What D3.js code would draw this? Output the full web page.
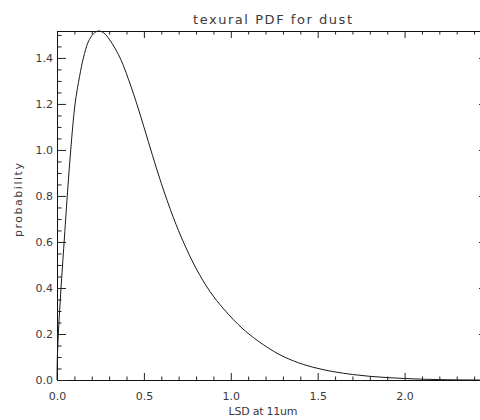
<!DOCTYPE html>
<html>
<head>
<meta charset="utf-8">
<script src="https://cdn.jsdelivr.net/npm/d3@7"></script>
<style>
  html, body { margin: 0; padding: 0; background: #fff; }
  svg { display: block; }
  text { font-family: "DejaVu Sans", "Liberation Sans", sans-serif; fill: #3a3a3a; }
</style>
</head>
<body>
<svg id="chart" width="480" height="420"></svg>
<script>
// Texural probability density of the 11um local standard deviation for dust
const lsd = [0, 0.002, 0.0075, 0.015, 0.023, 0.032, 0.041, 0.059, 0.079, 0.104, 0.13,
             0.152, 0.18, 0.21, 0.238, 0.27, 0.30, 0.335, 0.369, 0.41, 0.455, 0.50,
             0.55, 0.60, 0.67, 0.73, 0.80, 0.88, 0.96, 1.07, 1.19, 1.30, 1.42, 1.52,
             1.60, 1.70, 1.80, 1.90, 2.00, 2.10, 2.20, 2.30, 2.44];
const prob = [0, 0.1, 0.2, 0.3, 0.4, 0.5, 0.6, 0.8, 1.0, 1.2, 1.32,
              1.4, 1.47, 1.505, 1.517, 1.508, 1.482, 1.44, 1.39, 1.31, 1.21, 1.10,
              0.975, 0.855, 0.705, 0.595, 0.485, 0.385, 0.308, 0.222, 0.152, 0.103, 0.067, 0.047,
              0.035, 0.024, 0.016, 0.0105, 0.0065, 0.0035, 0.0017, 0.0007, 0.0001];

const xDomain = [0, 2.48];
const yDomain = [0, 1.517];
const xMajorTicks = [0, 0.5, 1.0, 1.5, 2.0];
const yMajorTicks = [0, 0.2, 0.4, 0.6, 0.8, 1.0, 1.2, 1.4];

const chartTitle = "texural PDF for dust";
const xTitle = "LSD at 11um";
const yTitle = "probability";

const plotLeft = 57, plotRight = 488, plotTop = 31, plotBottom = 380;

const svg = d3.select("#chart");
const x = d3.scaleLinear().domain(xDomain).range([plotLeft, plotRight]);
const y = d3.scaleLinear().domain(yDomain).range([plotBottom, plotTop]);

const xMinor = d3.range(0, xDomain[1] + 1e-9, 0.1).filter(v => Math.abs(v * 2 - Math.round(v * 2)) > 1e-6);
const yMinor = d3.range(0, yDomain[1] + 1e-9, 0.05).filter(v => Math.abs(v * 5 - Math.round(v * 5)) > 1e-6);

function styleAxis(g) {
  g.selectAll("path.domain").attr("stroke", "#111").attr("stroke-width", 1);
  g.selectAll(".tick line").attr("stroke", "#222").attr("stroke-width", 1);
  g.attr("font-family", null).attr("font-size", null);
  g.selectAll("text").attr("font-size", "11px").style("fill", "#3a3a3a");
}

// bottom axis: major ticks with labels, ticks pointing into the plot
svg.append("g")
  .attr("transform", `translate(0,${plotBottom})`)
  .call(d3.axisBottom(x).tickValues(xMajorTicks).tickFormat(d3.format(".1f"))
        .tickSizeInner(-7).tickSizeOuter(0).tickPadding(12))
  .call(styleAxis);
svg.append("g")
  .attr("transform", `translate(0,${plotBottom})`)
  .call(d3.axisBottom(x).tickValues(xMinor).tickFormat("").tickSizeInner(-3.5).tickSizeOuter(0))
  .call(styleAxis)
  .call(g => g.select("path.domain").remove());

// top axis: ticks only
svg.append("g")
  .attr("transform", `translate(0,${plotTop})`)
  .call(d3.axisTop(x).tickValues(xMajorTicks).tickFormat("").tickSizeInner(-7).tickSizeOuter(0))
  .call(styleAxis);
svg.append("g")
  .attr("transform", `translate(0,${plotTop})`)
  .call(d3.axisTop(x).tickValues(xMinor).tickFormat("").tickSizeInner(-3.5).tickSizeOuter(0))
  .call(styleAxis)
  .call(g => g.select("path.domain").remove());

// left axis
svg.append("g")
  .attr("transform", `translate(${plotLeft},0)`)
  .call(d3.axisLeft(y).tickValues(yMajorTicks).tickFormat(d3.format(".1f"))
        .tickSizeInner(-9).tickSizeOuter(0).tickPadding(4))
  .call(styleAxis);
svg.append("g")
  .attr("transform", `translate(${plotLeft},0)`)
  .call(d3.axisLeft(y).tickValues(yMinor).tickFormat("").tickSizeInner(-4.5).tickSizeOuter(0))
  .call(styleAxis)
  .call(g => g.select("path.domain").remove());

// right axis (falls just outside the canvas)
svg.append("g")
  .attr("transform", `translate(${plotRight},0)`)
  .call(d3.axisRight(y).tickValues(yMajorTicks).tickFormat("").tickSizeInner(-9).tickSizeOuter(0))
  .call(styleAxis);

// density curve
const line = d3.line()
  .x((d, i) => x(lsd[i]))
  .y(d => y(d))
  .curve(d3.curveCatmullRom.alpha(0.5));

svg.append("path")
  .datum(prob)
  .attr("d", line)
  .attr("fill", "none")
  .attr("stroke", "#1a1a1a")
  .attr("stroke-width", 1);

// titles
svg.append("text")
  .attr("x", 272.5).attr("y", 24)
  .attr("text-anchor", "middle")
  .attr("font-size", "13px")
  .attr("textLength", 159).attr("lengthAdjust", "spacing")
  .text(chartTitle);

svg.append("text")
  .attr("x", 263).attr("y", 415)
  .attr("text-anchor", "middle")
  .attr("font-size", "11px")
  .attr("textLength", 69).attr("lengthAdjust", "spacing")
  .text(xTitle);

svg.append("text")
  .attr("transform", "translate(22,200) rotate(-90)")
  .attr("text-anchor", "middle")
  .attr("font-size", "11px")
  .attr("textLength", 74).attr("lengthAdjust", "spacing")
  .text(yTitle);
</script>
</body>
</html>
